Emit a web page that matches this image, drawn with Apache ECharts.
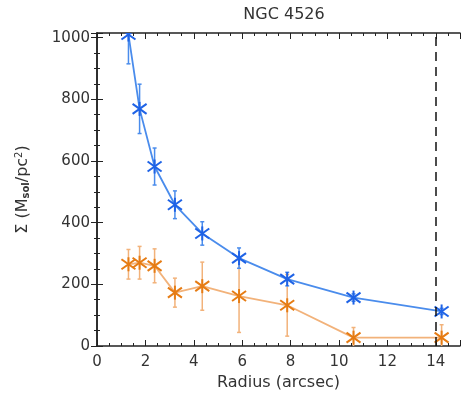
<!DOCTYPE html>
<html>
<head>
<meta charset="utf-8">
<script src="https://cdn.jsdelivr.net/npm/echarts@6/dist/echarts.min.js"></script>
<style>
    html, body { margin: 0; padding: 0; background: #fff; }
    #c1 { width: 471px; height: 402px; }
</style>
</head>
<body>
<div id="c1"></div>
<script>
// 半径 (arcsec)
var radius = [1.3, 1.76, 2.38, 3.22, 4.35, 5.87, 7.86, 10.6, 14.24];
// 蓝色序列
var blueVal = [1010, 769, 582, 458, 365, 285, 217, 157, 112];
var blueErr = [95, 80, 60, 45, 38, 33, 22, 12, 10];
// 橙色序列
var orangeVal = [265, 270, 260, 173, 194, 162, 132, 27, 27];
var orangeErr = [48, 53, 55, 47, 78, 118, 100, 33, 42];
// 虚线位置
var dashX = 14;

var BLUE_LINE = '#4a8cec';
var BLUE_MARK = '#1f63e6';
var OR_LINE = '#f2b27a';
var OR_MARK = '#e67c14';

function pairs(vals, errs) {
    return radius.map(function (x, i) {
        return [x, vals[i], errs[i]];
    });
}

//误差棒 + 星号标记
function errRender(lineColor, markColor) {
    return function (params, api) {
        var x = api.value(0), y = api.value(1), e = api.value(2);
        var p = api.coord([x, y]);
        var top = api.coord([x, y + e]);
        var bot = api.coord([x, y - e]);
        var ls = { stroke: lineColor, lineWidth: 1.5 };
        var ms = { stroke: markColor, lineWidth: 2 };
        return {
            type: 'group',
            children: [
                { type: 'line', shape: { x1: top[0], y1: top[1], x2: bot[0], y2: bot[1] }, style: ls },
                { type: 'line', shape: { x1: top[0] - 2, y1: top[1], x2: top[0] + 2, y2: top[1] }, style: ls },
                { type: 'line', shape: { x1: bot[0] - 2, y1: bot[1], x2: bot[0] + 2, y2: bot[1] }, style: ls },
                { type: 'line', shape: { x1: p[0], y1: p[1] - 7, x2: p[0], y2: p[1] + 7 }, style: ms },
                { type: 'line', shape: { x1: p[0] - 7, y1: p[1] - 5, x2: p[0] + 7, y2: p[1] + 5 }, style: ms },
                { type: 'line', shape: { x1: p[0] - 7, y1: p[1] + 5, x2: p[0] + 7, y2: p[1] - 5 }, style: ms }
            ]
        };
    };
}

var axisColor = '#222';
var txtColor = '#333';
var font = 'DejaVu Sans, sans-serif';

var chart = echarts.init(document.getElementById('c1'));
chart.setOption({
    backgroundColor: '#fff',
    animation: false,
    title: {
        text: 'NGC 4526',
        left: 279, top: 2, textAlign: 'center',
        textStyle: { color: txtColor, fontSize: 16, fontWeight: 'normal', fontFamily: font }
    },
    grid: { left: 97, right: 11, top: 33, bottom: 56 },
    xAxis: [{
        type: 'value', min: 0, max: 15, interval: 2,
        name: 'Radius (arcsec)', nameLocation: 'middle', nameGap: 29,
        nameTextStyle: { color: txtColor, fontSize: 16, fontFamily: font },
        axisLine: { onZero: false, lineStyle: { color: axisColor, width: 1.5 } },
        axisTick: { inside: true, length: 6, lineStyle: { color: axisColor } },
        minorTick: { show: true, splitNumber: 4, length: 3, lineStyle: { color: axisColor } },
        axisLabel: { color: txtColor, fontSize: 15, fontFamily: font, margin: 9,
            formatter: function (v) { return v > 14 ? '' : String(v); } },
        splitLine: { show: false }
    }, {
        type: 'value', min: 0, max: 15, interval: 2, position: 'top',
        axisLine: { onZero: false, lineStyle: { color: axisColor, width: 1.5 } },
        axisTick: { inside: true, length: 6, lineStyle: { color: axisColor } },
        minorTick: { show: true, splitNumber: 4, length: 3, lineStyle: { color: axisColor } },
        axisLabel: { show: false },
        splitLine: { show: false }
    }],
    yAxis: [{
        type: 'value', min: 0, max: 1015, interval: 200,
        name: '{a|Σ (M}{sub|sol}{a|/pc}{sup|2}{a|)}', nameLocation: 'middle', nameGap: 66, nameRotate: 90,
        nameTextStyle: {
            color: txtColor, fontFamily: font,
            rich: {
                a: { fontSize: 16, color: txtColor, fontFamily: font },
                sub: { fontSize: 10, fontWeight: 'bold', color: txtColor, fontFamily: font, verticalAlign: 'bottom', padding: [7, 0, 0, 0] },
                sup: { fontSize: 10, color: txtColor, fontFamily: font, verticalAlign: 'top', padding: [0, 0, 7, 0] }
            }
        },
        axisLine: { show: true, lineStyle: { color: axisColor, width: 1.5 } },
        axisTick: { inside: true, length: 6, lineStyle: { color: axisColor } },
        minorTick: { show: true, splitNumber: 4, length: 3, lineStyle: { color: axisColor } },
        axisLabel: { color: txtColor, fontSize: 15, fontFamily: font, margin: 7,
            formatter: function (v) { return String(v); } },
        splitLine: { show: false }
    }, {
        type: 'value', min: 0, max: 1015, interval: 200, position: 'right',
        axisLine: { show: true, lineStyle: { color: axisColor, width: 1.5 } },
        axisTick: { inside: true, length: 6, lineStyle: { color: axisColor } },
        minorTick: { show: true, splitNumber: 4, length: 3, lineStyle: { color: axisColor } },
        axisLabel: { show: false },
        splitLine: { show: false }
    }],
    series: [{
        type: 'line', data: pairs(orangeVal, orangeErr), showSymbol: false,
        lineStyle: { color: OR_LINE, width: 1.8 }, z: 2,
        markLine: {
            silent: true, symbol: 'none', label: { show: false },
            lineStyle: { color: '#111', type: [9, 6], width: 1.5 },
            data: [{ xAxis: dashX }]
        }
    }, {
        type: 'line', data: pairs(blueVal, blueErr), showSymbol: false,
        lineStyle: { color: BLUE_LINE, width: 1.8 }, z: 2
    }, {
        type: 'custom', data: pairs(orangeVal, orangeErr), clip: true, z: 3,
        renderItem: errRender(OR_LINE, OR_MARK)
    }, {
        type: 'custom', data: pairs(blueVal, blueErr), clip: true, z: 3,
        renderItem: errRender(BLUE_LINE, BLUE_MARK)
    }]
});
</script>
</body>
</html>
